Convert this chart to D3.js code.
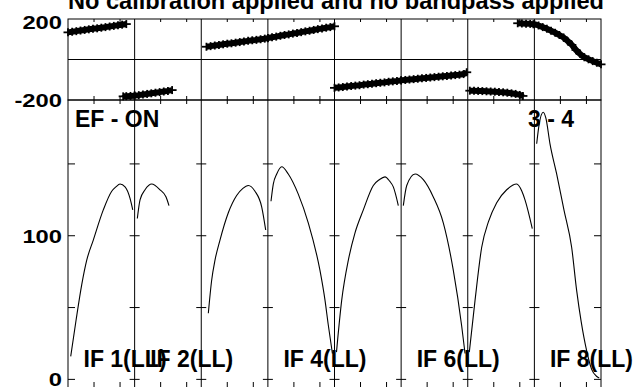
<!DOCTYPE html>
<html lang="en">
<head>
<meta charset="UTF-8">
<title>POSSM</title>
<script src="https://d3js.org/d3.v7.min.js"></script>
<style>
  body { margin: 0; background: #fff; }
  text { font-family: "Liberation Sans", Arial, sans-serif; font-weight: bold; fill: #000; }
</style>
</head>
<body>
<div id="chart"></div>
<script>
// channels per IF, 8 IFs side by side
const nChan = 64;
const nIF = 8;
const ifLabels = [[1, "IF 1(LL)"], [2, "IF 2(LL)"], [4, "IF 4(LL)"], [6, "IF 6(LL)"], [8, "IF 8(LL)"]];
const chanTicks = [25, 50];
const phaseLabels = [200, -200];
const ampTicks = [0, 50, 100, 150];
const ampLabels = [100, 0];
const title = "No calibration applied and no bandpass applied";

// amplitude, [channel, amp] per IF
const ampIF1 = [[2.6,16],[7.7,41],[13.2,66],[18,83],[24.3,97],[33.9,118],[42,131],[46,134],[50,136],[54.8,134],[59.6,126],[62.2,118]];
const ampIF2 = [[2.6,112],[5.2,125],[10,132],[16.4,136],[24.4,132],[30.2,127],[33,121]];
const ampIF3 = [[6.8,46],[10,69],[13.2,83],[18,97],[26,116],[34,128],[40,133],[45.2,135],[51.6,131],[58.1,120],[61.9,104]];
const ampIF4 = [[3,124],[5.2,136],[8.5,143],[13.3,148],[19.6,143],[29.2,129],[38.8,109],[50,76],[54.9,55],[58,38],[62,18]];
const ampIF5 = [[1.9,19],[6.9,55],[13.3,83],[19.7,102],[27.7,118],[37.3,135],[43,139],[48.5,141],[53,138],[56.5,134],[61.3,121]];
const ampIF6 = [[2.1,121],[5.4,135],[13.4,143],[21.3,139],[30.9,127],[40.5,109],[50.1,76],[58.2,37],[61.4,18]];
const ampIF7 = [[1.5,19],[7,55],[13.4,92],[20,110],[27.8,123],[37.4,132],[47,136],[52,131],[55,125],[62,105]];
const ampIF8 = [[2.2,164],[4.7,178],[8.5,186],[11,182],[15,164],[21.4,143],[28.4,118],[35.8,92],[40.6,62],[45,40],[50.2,20],[55,7],[60,2],[62.3,1]];

// phase, [channel, degrees]; "w" = wrapped part
const phaseIF1 = [[0,134],[4,137],[8,140],[12,143],[16,146],[20,149],[24,152],[28,154],[32,157],[36,160],[40,163],[44,166],[48,169],[52,172],[56,175]];
const phaseIF1w = [[53,-182],[56,-181],[60,-180],[64,-179]];
const phaseIF2 = [[0,-178],[4,-176],[8,-173],[12,-170],[16,-167],[20,-164],[24,-161],[28,-158],[32,-155],[36,-151]];
const phaseIF3 = [[5,63],[9,66],[13,69],[17,72],[21,75],[25,78],[29,80],[33,83],[37,86],[41,89],[45,92],[49,95],[53,97],[57,100],[61,103],[64,105]];
const phaseIF4 = [[0,106],[4,110],[8,113],[12,117],[16,121],[20,124],[24,128],[28,131],[32,135],[36,139],[40,142],[44,146],[48,150],[52,153],[56,157],[60,160],[64,164]];
const phaseIF5 = [[0,-140],[4,-138],[8,-136],[12,-133],[16,-131],[20,-129],[24,-127],[28,-124],[32,-122],[36,-120],[40,-117],[44,-115],[48,-113],[52,-110],[56,-108],[60,-106],[64,-103]];
const phaseIF6 = [[0,-103],[4,-101],[8,-99],[12,-97],[16,-95],[20,-93],[24,-91],[28,-89],[32,-87],[36,-85],[40,-83],[44,-81],[48,-79],[52,-77],[56,-75],[60,-72],[63,-63]];
const phaseIF7 = [[2,-154],[6,-154],[10,-155],[14,-156],[18,-157],[22,-158],[26,-159],[30,-161],[34,-162],[38,-164],[42,-167],[46,-170],[50,-175],[53,-180]];
const phaseIF7w = [[48,179],[52,178],[56,177],[60,176],[63,174]];
const phaseIF8 = [[0,175],[4,168],[8,160],[12,152],[16,142],[20,132],[24,121],[28,109],[32,91],[36,72],[40,47],[44,27],[48,11],[52,1],[56,-8],[60,-16],[64,-24]];

const ampSeries = [ampIF1, ampIF2, ampIF3, ampIF4, ampIF5, ampIF6, ampIF7, ampIF8];
const phaseSeries = [[1, phaseIF1], [1, phaseIF1w], [2, phaseIF2], [3, phaseIF3], [4, phaseIF4],
                     [5, phaseIF5], [6, phaseIF6], [7, phaseIF7], [7, phaseIF7w], [8, phaseIF8]];

const W = 641, H = 387;
const xLeft = 68, xRight = 601, yTop = 19, yMid = 100, yBot = 388;

const x = d3.scaleLinear().domain([0, nIF * nChan]).range([xLeft, xRight]);
const yP = d3.scaleLinear().domain([-200, 200]).range([yMid, yTop]);
const yA = d3.scaleLinear().domain([-6, 194.5]).range([yBot, yMid]);
const gx = (ifn, ch) => x((ifn - 1) * nChan + ch);

const svg = d3.select("#chart").append("svg")
    .attr("width", W).attr("height", H);

const axes = svg.append("g").attr("stroke", "#000").attr("stroke-width", 1).attr("fill", "none");

// frames
axes.append("rect").attr("x", xLeft).attr("y", yTop).attr("width", xRight - xLeft).attr("height", yMid - yTop);
axes.append("rect").attr("x", xLeft).attr("y", yMid).attr("width", xRight - xLeft).attr("height", yBot - yMid);
// phase zero line
axes.append("line").attr("x1", xLeft).attr("x2", xRight).attr("y1", yP(0)).attr("y2", yP(0));

// IF dividers
const dividers = d3.range(1, nIF).map(i => x(i * nChan));
axes.selectAll(".div").data(dividers).join("line")
    .attr("x1", d => d).attr("x2", d => d).attr("y1", yTop).attr("y2", yBot);

// channel ticks
const chTickPos = [];
for (let i = 1; i <= nIF; i++) chanTicks.forEach(c => chTickPos.push(gx(i, c)));
chTickPos.forEach(px => {
    axes.append("line").attr("x1", px).attr("x2", px).attr("y1", yTop).attr("y2", yTop + 3);
    axes.append("line").attr("x1", px).attr("x2", px).attr("y1", yMid - 4).attr("y2", yMid + 4);
    axes.append("line").attr("x1", px).attr("x2", px).attr("y1", yBot - 6).attr("y2", yBot);
});

// amplitude ticks at edges and dividers
ampTicks.forEach(v => {
    const py = yA(v);
    axes.append("line").attr("x1", xLeft).attr("x2", xLeft + 7).attr("y1", py).attr("y2", py);
    axes.append("line").attr("x1", xRight - 7).attr("x2", xRight).attr("y1", py).attr("y2", py);
    dividers.forEach(dx => {
        axes.append("line").attr("x1", dx - 5).attr("x2", dx + 5).attr("y1", py).attr("y2", py);
    });
});

// y labels (stretched wide like the original)
function yLabel(txt, py) {
    svg.append("text")
        .attr("transform", `translate(62,${py}) scale(1.25,1)`)
        .attr("text-anchor", "end").attr("dy", "0.36em")
        .style("font-size", "19px").text(txt);
}
phaseLabels.forEach(v => yLabel(v, Math.max(yP(v), yTop + 2.7)));
ampLabels.forEach(v => yLabel(v, yA(v)));

// phase: thick band of + markers
phaseSeries.forEach(([ifn, pts]) => {
    svg.append("path").datum(pts)
        .attr("fill", "none").attr("stroke", "#000").attr("stroke-width", 6)
        .attr("stroke-linejoin", "round")
        .attr("d", d3.line().x(d => gx(ifn, d[0])).y(d => yP(d[1])));
    const g = svg.append("g").attr("stroke", "#000").attr("stroke-width", 1.8);
    pts.forEach(d => {
        const cx = gx(ifn, d[0]), cy = yP(d[1]);
        g.append("line").attr("x1", cx - 4.5).attr("x2", cx + 4.5).attr("y1", cy).attr("y2", cy);
        g.append("line").attr("x1", cx).attr("x2", cx).attr("y1", cy - 4).attr("y2", cy + 4);
    });
});

// amplitude lines
ampSeries.forEach((pts, i) => {
    svg.append("path").datum(pts)
        .attr("fill", "none").attr("stroke", "#000").attr("stroke-width", 1.1)
        .attr("d", d3.line().curve(d3.curveMonotoneX).x(d => gx(i + 1, d[0])).y(d => yA(d[1])));
});

// texts
svg.append("text").attr("x", xLeft).attr("y", 9)
    .attr("textLength", 536).attr("lengthAdjust", "spacingAndGlyphs")
    .style("font-size", "23.5px").text(title);

svg.append("text").attr("x", 75).attr("y", 127).style("font-size", "23px").text("EF - ON");
svg.append("text").attr("x", 574).attr("y", 127).attr("text-anchor", "end").style("font-size", "23px").text("3 - 4");

ifLabels.forEach(([ifn, lab]) => {
    svg.append("text").attr("x", gx(ifn, 0) + 15.5).attr("y", 367)
        .style("font-size", "23px").text(lab);
});
</script>
</body>
</html>
